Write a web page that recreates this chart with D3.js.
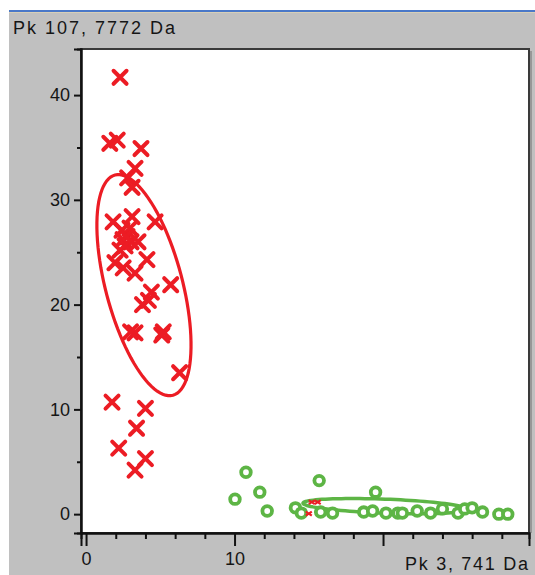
<!DOCTYPE html>
<html lang="en">
<head>
  <meta charset="UTF-8">
  <title>Pk 107 vs Pk 3</title>
  <script src="https://d3js.org/d3.v7.min.js"></script>
  <style>
    body {
      margin: 0;
      background: #fff;
    }
    svg {
      display: block;
      font-family: "Liberation Sans", Arial, sans-serif;
    }
  </style>
</head>
<body>
<svg width="535" height="575"></svg>

<script>
// group 1 (red crosses): [Pk 3, Pk 107]
const redPoints = [
  [2.29, 41.7], [1.6, 35.4], [2.1, 35.7], [3.7, 34.9], [3.3, 33.0], [2.8, 32.1], [3.1, 31.2],
  [1.82, 27.9], [3.1, 28.4], [4.65, 27.9], [2.42, 27.1], [2.96, 27.3], [2.76, 26.5],
  [2.49, 26.2], [3.03, 26.0], [2.63, 25.6], [3.5, 26.0], [2.29, 25.2],
  [1.95, 24.0], [2.5, 23.5], [4.1, 24.3], [3.3, 23.0], [4.4, 21.2], [5.7, 21.9],
  [3.8, 20.0], [4.2, 20.4], [3.3, 17.3], [3.0, 17.4], [5.2, 17.4], [5.1, 17.1], [6.3, 13.5],
  [1.75, 10.7], [4.0, 10.1], [3.4, 8.2], [2.2, 6.3], [4.0, 5.3], [3.3, 4.2]
];

// group 2 (green circles)
const greenPoints = [
  [10.77, 4.0], [10.03, 1.43], [11.7, 2.1], [12.2, 0.3], [14.1, 0.6], [14.5, 0.1],
  [15.7, 3.2], [15.8, 0.2], [16.6, 0.1], [18.7, 0.2], [19.3, 0.3], [19.5, 2.1],
  [20.2, 0.1], [21.0, 0.1], [21.3, 0.1], [22.3, 0.3], [23.2, 0.1], [24.0, 0.5],
  [25.05, 0.1], [25.5, 0.5], [26.0, 0.6], [26.7, 0.2], [27.8, 0.0], [28.4, 0.0]
];

// small red marks near the green group
const redSmall = [[15.2, 1.15], [15.6, 1.15], [15.0, 0.05]];

// ellipses: center, half-axis 1, half-axis 2 (data units)
const redEllipse = { c: [3.9, 21.86], a: [1.95, -10.51], b: [2.5, 0.95] };
const greenEllipse = { c: [20.13, 0.76], a: [5.52, -0.29], b: [0.02, 0.67] };

const yTicksMajor = [0, 10, 20, 30, 40];
const yTicksMinor = [5, 15, 25, 35];
const xTicksMajor = [0, 10, 20];
const xTicksMinor = [2, 4, 6, 8, 12, 14, 16, 18, 22, 24, 26, 28];
const xTickLabels = [0, 10];

const titleY = "Pk 107, 7772 Da";
const titleX = "Pk 3, 741 Da";

const svg = d3.select("svg");
const box = {left: 81, top: 49, right: 529, bottom: 533};

const x = d3.scaleLinear().domain([-0.34, 29.83]).range([box.left, box.right]);
const y = d3.scaleLinear().domain([-1.8, 44.4]).range([box.bottom, box.top]);

// window background
svg.append("rect").attr("x", 9).attr("y", 10).attr("width", 526).attr("height", 565).attr("fill", "#c0c0c0");
svg.append("rect").attr("x", 9).attr("y", 10).attr("width", 526).attr("height", 2).attr("fill", "#4a78c8");
svg.append("rect").attr("x", 9).attr("y", 12).attr("width", 526).attr("height", 1).attr("fill", "#d8d0b8");

// plot area
svg.append("rect")
  .attr("x", box.left).attr("y", box.top)
  .attr("width", box.right - box.left).attr("height", box.bottom - box.top)
  .attr("fill", "#fff").attr("stroke", "#3a3a3a").attr("stroke-width", 2);
svg.append("line").attr("x1", box.right + 2).attr("x2", box.right + 2)
  .attr("y1", box.top + 2).attr("y2", box.bottom).attr("stroke", "#8a8a8a").attr("stroke-width", 1.5);

// axes
const yMinor = d3.axisLeft(y).tickValues(yTicksMinor).tickSize(4).tickFormat("");
const yMajor = d3.axisLeft(y).tickValues(yTicksMajor).tickSize(7).tickPadding(4);
const xMinor = d3.axisBottom(x).tickValues(xTicksMinor).tickSize(6).tickFormat("");
const xMajor = d3.axisBottom(x).tickValues(xTicksMajor).tickSize(13).tickPadding(6)
  .tickFormat(d => xTickLabels.includes(d) ? d : "");

[yMinor, yMajor].forEach(ax => {
  svg.append("g").attr("transform", `translate(${box.left},0)`).call(ax)
    .call(g => g.select(".domain").attr("stroke", "#111").attr("stroke-width", 2))
    .call(g => g.selectAll(".tick line").attr("stroke", "#111").attr("stroke-width", 2));
});
[xMinor, xMajor].forEach(ax => {
  svg.append("g").attr("transform", `translate(0,${box.bottom})`).call(ax)
    .call(g => g.select(".domain").attr("stroke", "#111").attr("stroke-width", 2))
    .call(g => g.selectAll(".tick line").attr("stroke", "#111").attr("stroke-width", 2));
});
svg.selectAll(".tick text")
  .attr("font-family", "Liberation Sans, Arial, sans-serif")
  .attr("font-size", 18).attr("fill", "#151515");

// axis titles
svg.append("text").attr("x", 13).attr("y", 34)
  .attr("font-size", 18).attr("fill", "#151515")
  .attr("textLength", 162).attr("lengthAdjust", "spacing")
  .text(titleY);
svg.append("text").attr("x", 405).attr("y", 570)
  .attr("font-size", 18).attr("fill", "#151515")
  .attr("textLength", 123).attr("lengthAdjust", "spacing")
  .text(titleX);

// ellipse path helper
function ellipsePath(e) {
  const pts = d3.range(0, 101).map(i => {
    const t = i / 100 * 2 * Math.PI;
    return [x(e.c[0] + e.a[0] * Math.cos(t) + e.b[0] * Math.sin(t)),
            y(e.c[1] + e.a[1] * Math.cos(t) + e.b[1] * Math.sin(t))];
  });
  return d3.line().curve(d3.curveLinearClosed)(pts);
}

const plot = svg.append("g");

const red = "#ec1c24";
const green = "#5db545";

// red group
plot.append("path").attr("d", ellipsePath(redEllipse))
  .attr("fill", "none").attr("stroke", red).attr("stroke-width", 3.2);

const cross = "M-6.5,-6.5L6.5,6.5M-6.5,6.5L6.5,-6.5";
plot.selectAll(".redx").data(redPoints).enter().append("path")
  .attr("class", "redx")
  .attr("transform", d => `translate(${x(d[0])},${y(d[1])})`)
  .attr("d", cross)
  .attr("stroke", red).attr("stroke-width", 4).attr("stroke-linecap", "round").attr("fill", "none");

// green group
plot.append("path").attr("d", ellipsePath(greenEllipse))
  .attr("fill", "none").attr("stroke", green).attr("stroke-width", 3.5);

plot.selectAll(".greeno").data(greenPoints).enter().append("circle")
  .attr("class", "greeno")
  .attr("cx", d => x(d[0])).attr("cy", d => y(d[1]))
  .attr("r", 4.8)
  .attr("fill", "#fff").attr("stroke", green).attr("stroke-width", 3.8);

plot.selectAll(".reds").data(redSmall).enter().append("path")
  .attr("class", "reds")
  .attr("transform", d => `translate(${x(d[0])},${y(d[1])})`)
  .attr("d", "M-3,-2L3,2M-3,2L3,-2")
  .attr("stroke", red).attr("stroke-width", 2.2).attr("fill", "none");
</script>
</body>
</html>
